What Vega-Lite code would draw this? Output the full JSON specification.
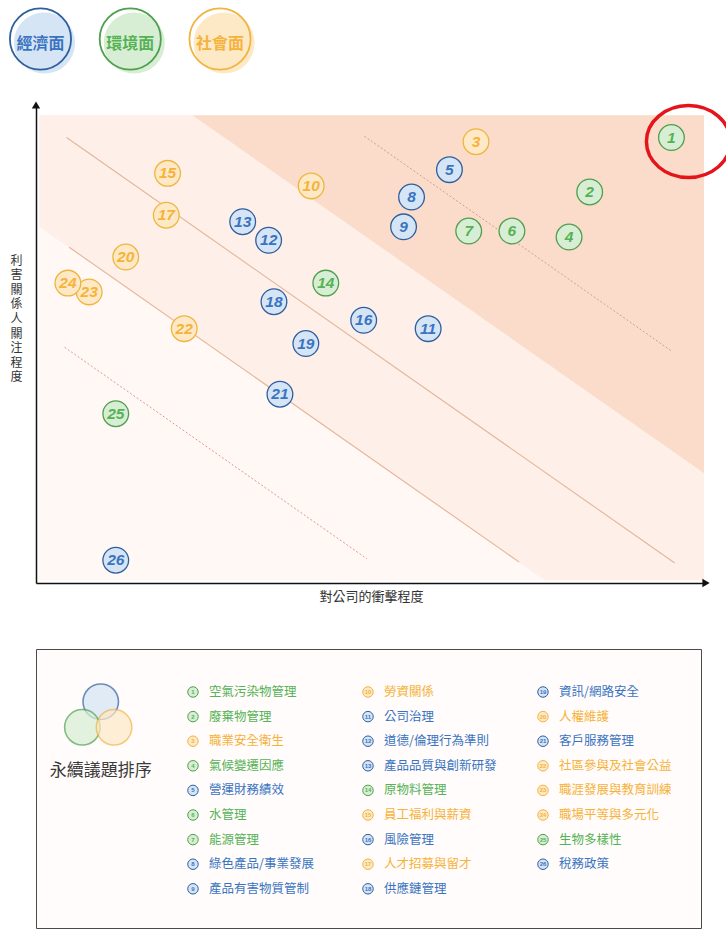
{
  "$schema": "https://vega.github.io/schema/vega-lite/v6.json",
  "padding": {"left": 6, "top": 0, "right": 0, "bottom": 0},
  "bounds": "flush",
  "spacing": 66,
  "config": {
    "view": {"stroke": null},
    "font": "Noto Sans CJK TC",
    "axis": {"grid": false, "ticks": false, "labels": false, "domainColor": "#111111", "domainWidth": 1.5, "titleFontSize": 13, "titleFontWeight": "normal", "titleColor": "#333333"}
  },
  "datasets": {
    "groups": [{"group": "經濟面"}, {"group": "環境面"}, {"group": "社會面"}],
    "topics": [
      {"id": 1, "name": "空氣污染物管理", "group": "環境面", "impact": 95.1, "concern": 95.2, "col": 1, "row": 1},
      {"id": 2, "name": "廢棄物管理", "group": "環境面", "impact": 82.8, "concern": 83.5, "col": 1, "row": 2},
      {"id": 3, "name": "職業安全衛生", "group": "社會面", "impact": 65.7, "concern": 94.3, "col": 1, "row": 3},
      {"id": 4, "name": "氣候變遷因應", "group": "環境面", "impact": 79.7, "concern": 73.8, "col": 1, "row": 4},
      {"id": 5, "name": "營運財務績效", "group": "經濟面", "impact": 61.7, "concern": 88.3, "col": 1, "row": 5},
      {"id": 6, "name": "水管理", "group": "環境面", "impact": 71.1, "concern": 75.1, "col": 1, "row": 6},
      {"id": 7, "name": "能源管理", "group": "環境面", "impact": 64.6, "concern": 75.1, "col": 1, "row": 7},
      {"id": 8, "name": "綠色產品/事業發展", "group": "經濟面", "impact": 56.0, "concern": 82.4, "col": 1, "row": 8},
      {"id": 9, "name": "產品有害物質管制", "group": "經濟面", "impact": 54.8, "concern": 76.0, "col": 1, "row": 9},
      {"id": 10, "name": "勞資關係", "group": "社會面", "impact": 40.9, "concern": 84.8, "col": 2, "row": 1},
      {"id": 11, "name": "公司治理", "group": "經濟面", "impact": 58.5, "concern": 54.1, "col": 2, "row": 2},
      {"id": 12, "name": "道德/倫理行為準則", "group": "經濟面", "impact": 34.5, "concern": 73.1, "col": 2, "row": 3},
      {"id": 13, "name": "產品品質與創新研發", "group": "經濟面", "impact": 30.6, "concern": 77.1, "col": 2, "row": 4},
      {"id": 14, "name": "原物料管理", "group": "環境面", "impact": 43.1, "concern": 63.9, "col": 2, "row": 5},
      {"id": 15, "name": "員工福利與薪資", "group": "社會面", "impact": 19.3, "concern": 87.5, "col": 2, "row": 6},
      {"id": 16, "name": "風險管理", "group": "經濟面", "impact": 48.8, "concern": 55.9, "col": 2, "row": 7},
      {"id": 17, "name": "人才招募與留才", "group": "社會面", "impact": 19.1, "concern": 78.5, "col": 2, "row": 8},
      {"id": 18, "name": "供應鏈管理", "group": "經濟面", "impact": 35.3, "concern": 59.9, "col": 2, "row": 9},
      {"id": 19, "name": "資訊/網路安全", "group": "經濟面", "impact": 40.1, "concern": 50.9, "col": 3, "row": 1},
      {"id": 20, "name": "人權維護", "group": "社會面", "impact": 13.0, "concern": 69.5, "col": 3, "row": 2},
      {"id": 21, "name": "客戶服務管理", "group": "經濟面", "impact": 36.2, "concern": 40.0, "col": 3, "row": 3},
      {"id": 22, "name": "社區參與及社會公益", "group": "社會面", "impact": 21.8, "concern": 54.1, "col": 3, "row": 4},
      {"id": 23, "name": "職涯發展與教育訓練", "group": "社會面", "impact": 7.5, "concern": 62.0, "col": 3, "row": 5},
      {"id": 24, "name": "職場平等與多元化", "group": "社會面", "impact": 4.3, "concern": 63.9, "col": 3, "row": 6},
      {"id": 25, "name": "生物多樣性", "group": "環境面", "impact": 11.5, "concern": 35.8, "col": 3, "row": 7},
      {"id": 26, "name": "稅務政策", "group": "經濟面", "impact": 11.5, "concern": 4.3, "col": 3, "row": 8}
    ],
    "bands": [
      {"band": "mid", "x": 0, "lo": 76, "hi": 100},
      {"band": "mid", "x": 23, "lo": 53, "hi": 100},
      {"band": "mid", "x": 76, "lo": 0, "hi": 47},
      {"band": "mid", "x": 100, "lo": 0, "hi": 23},
      {"band": "high", "x": 23, "lo": 100, "hi": 100},
      {"band": "high", "x": 100, "lo": 23, "hi": 100}
    ],
    "guides": [
      {"guide": "a", "style": "solid", "x": 4.1, "y": 95.2},
      {"guide": "a", "style": "solid", "x": 95.6, "y": 3.7},
      {"guide": "b", "style": "solid", "x": 4.5, "y": 71.6},
      {"guide": "b", "style": "solid", "x": 72.2, "y": 3.9},
      {"guide": "c", "style": "dotted", "x": 48.9, "y": 95.5},
      {"guide": "c", "style": "dotted", "x": 95.2, "y": 49.2},
      {"guide": "d", "style": "dotted", "x": 3.8, "y": 50.1},
      {"guide": "d", "style": "dotted", "x": 49.3, "y": 4.6}
    ],
    "venn": [
      {"group": "經濟面", "vx": 0.473, "vy": 1.394},
      {"group": "環境面", "vx": 0.368, "vy": 2.435},
      {"group": "社會面", "vx": 0.549, "vy": 2.435}
    ]
  },
  "vconcat": [
    {
      "width": 188.5,
      "height": 39,
      "data": {"name": "groups"},
      "encoding": {
        "x": {"field": "group", "type": "nominal", "sort": null, "scale": {"type": "point", "padding": 0.05, "domain": ["經濟面", "環境面", "社會面"]}, "axis": null}
      },
      "layer": [
        {
          "mark": {"type": "circle", "size": 3740, "opacity": 1, "xOffset": 4, "yOffset": 23.5},
          "encoding": {"fill": {"field": "group", "type": "nominal", "scale": {"domain": ["經濟面", "環境面", "社會面"], "range": ["#d5e5f5", "#d8eed4", "#fde9c6"]}, "legend": null}}
        },
        {
          "mark": {"type": "point", "filled": false, "size": 3740, "strokeWidth": 1.8, "opacity": 1, "yOffset": 19.5},
          "encoding": {"stroke": {"field": "group", "type": "nominal", "scale": {"domain": ["經濟面", "環境面", "社會面"], "range": ["#2f5f9e", "#4e9f4e", "#f0b540"]}, "legend": null}}
        },
        {
          "mark": {"type": "text", "fontSize": 16, "fontWeight": "bold", "yOffset": 24},
          "encoding": {
            "text": {"field": "group"},
            "color": {"field": "group", "type": "nominal", "scale": {"domain": ["經濟面", "環境面", "社會面"], "range": ["#3a74c0", "#55b255", "#f6b23a"]}, "legend": null}
          }
        }
      ]
    },
    {
      "width": 670,
      "height": 478,
      "encoding": {
        "x": {"type": "quantitative", "scale": {"domain": [-0.5, 100.3], "nice": false, "zero": false}, "title": "對公司的衝擊程度", "axis": {"titlePadding": 7}},
        "y": {"type": "quantitative", "scale": {"domain": [-0.6, 102.2], "nice": false, "zero": false}, "title": ["利", "害", "關", "係", "人", "關", "注", "程", "度"], "axis": {"titleAngle": 0, "titleAlign": "center", "titleBaseline": "top", "titleX": -20, "titleY": 150, "titleFontSize": 12, "titleLineHeight": 14.6}}
      },
      "layer": [
        {
          "data": {"values": [{"x0": 0, "x1": 100, "y0": 0, "y1": 100}]},
          "mark": {"type": "rect", "color": "#fff8f5"},
          "encoding": {
            "x": {"field": "x0"},
            "x2": {"field": "x1"},
            "y": {"field": "y0"},
            "y2": {"field": "y1"}
          }
        },
        {
          "data": {"name": "bands"},
          "transform": [{"filter": "datum.band == 'mid'"}],
          "mark": {"type": "area", "color": "#fef0e9", "opacity": 1},
          "encoding": {
            "x": {"field": "x"},
            "y": {"field": "lo"},
            "y2": {"field": "hi"}
          }
        },
        {
          "data": {"name": "bands"},
          "transform": [{"filter": "datum.band == 'high'"}],
          "mark": {"type": "area", "color": "#fbdcca", "opacity": 1},
          "encoding": {
            "x": {"field": "x"},
            "y": {"field": "lo"},
            "y2": {"field": "hi"}
          }
        },
        {
          "data": {"name": "guides"},
          "transform": [{"filter": "datum.style == 'solid'"}],
          "mark": {"type": "line", "color": "#e5b497", "strokeWidth": 1.1},
          "encoding": {
            "x": {"field": "x"},
            "y": {"field": "y"},
            "detail": {"field": "guide"}
          }
        },
        {
          "data": {"name": "guides"},
          "transform": [{"filter": "datum.style == 'dotted'"}],
          "mark": {"type": "line", "color": "#dd9a8a", "strokeWidth": 1, "strokeDash": [2, 2]},
          "encoding": {
            "x": {"field": "x"},
            "y": {"field": "y"},
            "detail": {"field": "guide"}
          }
        },
        {
          "data": {"name": "topics"},
          "mark": {"type": "circle", "size": 660, "opacity": 1, "strokeWidth": 1.3},
          "encoding": {
            "x": {"field": "impact"},
            "y": {"field": "concern"},
            "fill": {"field": "group", "type": "nominal", "scale": {"domain": ["經濟面", "環境面", "社會面"], "range": ["#e2ecf8", "#e5f4e1", "#fff3e0"]}, "legend": null},
            "stroke": {"field": "group", "type": "nominal", "scale": {"domain": ["經濟面", "環境面", "社會面"], "range": ["#3566ad", "#4fa557", "#f2b244"]}, "legend": null}
          }
        },
        {
          "data": {"name": "topics"},
          "mark": {"type": "text", "font": "Liberation Sans", "fontSize": 15.5, "fontStyle": "italic", "fontWeight": "bold", "baseline": "middle", "align": "center"},
          "encoding": {
            "x": {"field": "impact"},
            "y": {"field": "concern"},
            "text": {"field": "id"},
            "color": {"field": "group", "type": "nominal", "scale": {"domain": ["經濟面", "環境面", "社會面"], "range": ["#2b5ca6", "#2e9a48", "#ee8b2d"]}, "legend": null}
          }
        },
        {
          "data": {"name": "topics"},
          "transform": [{"filter": "datum.id == 1"}],
          "mark": {"type": "point", "shape": "M -1.167 0 A 1.167 1 0 1 0 1.167 0 A 1.167 1 0 1 0 -1.167 0 Z", "size": 5184, "filled": false, "stroke": "#e5141b", "strokeWidth": 3.5, "opacity": 1, "xOffset": 17, "yOffset": 4},
          "encoding": {
            "x": {"field": "impact"},
            "y": {"field": "concern"}
          }
        },
        {
          "data": {"values": [{"ax": 100.3, "ay": -0.6}]},
          "mark": {"type": "point", "shape": "triangle-right", "size": 70, "filled": true, "color": "#111111", "opacity": 1},
          "encoding": {
            "x": {"field": "ax"},
            "y": {"field": "ay"}
          }
        },
        {
          "data": {"values": [{"ax": -0.5, "ay": 102.2}]},
          "mark": {"type": "point", "shape": "triangle-up", "size": 70, "filled": true, "color": "#111111", "opacity": 1},
          "encoding": {
            "x": {"field": "ax"},
            "y": {"field": "ay"}
          }
        }
      ]
    },
    {
      "width": 665,
      "height": 279,
      "view": {"stroke": "#4a4a4a", "strokeWidth": 1, "fill": "#fffcfb"},
      "encoding": {
        "x": {"type": "quantitative", "scale": {"domain": [0.103, 3.903], "nice": false, "zero": false}, "axis": null},
        "y": {"type": "quantitative", "scale": {"domain": [-0.748, 10.593], "nice": false, "zero": false, "reverse": true}, "axis": null}
      },
      "layer": [
        {
          "data": {"name": "venn"},
          "mark": {"type": "circle", "size": 1257, "opacity": 0.7, "strokeWidth": 1.6},
          "encoding": {
            "x": {"field": "vx"},
            "y": {"field": "vy"},
            "fill": {"field": "group", "type": "nominal", "scale": {"domain": ["經濟面", "環境面", "社會面"], "range": ["#c9ddf2", "#d3ebcf", "#fbe4c0"]}, "legend": null},
            "stroke": {"field": "group", "type": "nominal", "scale": {"domain": ["經濟面", "環境面", "社會面"], "range": ["#3566ad", "#4fa557", "#f2b244"]}, "legend": null}
          }
        },
        {
          "data": {"values": [{"label": "永續議題排序", "vx": 0.473, "vy": 4.211}]},
          "mark": {"type": "text", "fontSize": 17, "color": "#3a3a3a", "baseline": "middle", "align": "center"},
          "encoding": {
            "x": {"field": "vx"},
            "y": {"field": "vy"},
            "text": {"field": "label"}
          }
        },
        {
          "data": {"name": "topics"},
          "mark": {"type": "circle", "size": 110, "opacity": 1, "strokeWidth": 1},
          "encoding": {
            "x": {"field": "col"},
            "y": {"field": "row"},
            "fill": {"field": "group", "type": "nominal", "scale": {"domain": ["經濟面", "環境面", "社會面"], "range": ["#eef4fb", "#eef8ec", "#fff6e8"]}, "legend": null},
            "stroke": {"field": "group", "type": "nominal", "scale": {"domain": ["經濟面", "環境面", "社會面"], "range": ["#3566ad", "#4fa557", "#f2b244"]}, "legend": null}
          }
        },
        {
          "data": {"name": "topics"},
          "mark": {"type": "text", "font": "Liberation Sans", "fontSize": 6, "fontWeight": "bold", "baseline": "middle", "align": "center"},
          "encoding": {
            "x": {"field": "col"},
            "y": {"field": "row"},
            "text": {"field": "id"},
            "color": {"field": "group", "type": "nominal", "scale": {"domain": ["經濟面", "環境面", "社會面"], "range": ["#36609f", "#5aa94f", "#f1a53c"]}, "legend": null}
          }
        },
        {
          "data": {"name": "topics"},
          "mark": {"type": "text", "fontSize": 12.5, "baseline": "middle", "align": "left", "dx": 16},
          "encoding": {
            "x": {"field": "col"},
            "y": {"field": "row"},
            "text": {"field": "name"},
            "color": {"field": "group", "type": "nominal", "scale": {"domain": ["經濟面", "環境面", "社會面"], "range": ["#36609f", "#5aa94f", "#f1a53c"]}, "legend": null}
          }
        }
      ]
    }
  ]
}
